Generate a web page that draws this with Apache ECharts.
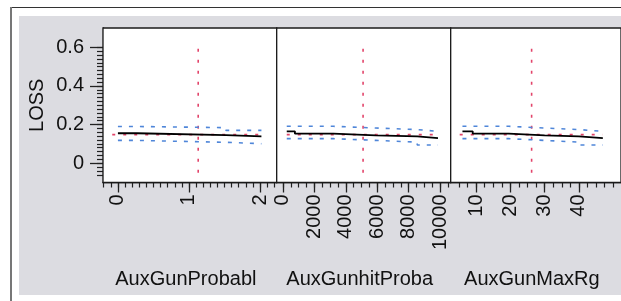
<!DOCTYPE html>
<html>
<head>
<meta charset="utf-8">
<script src="https://cdn.jsdelivr.net/npm/echarts@6/dist/echarts.min.js"></script>
<style>html,body{margin:0;padding:0;background:#fff}#c{width:621px;height:301px}</style>
</head>
<body>
<div id="c"></div>
<script>
// ---- data ----
const factorNames = ['AuxGunProbabl', 'AuxGunhitProba', 'AuxGunMaxRg'];
const yTickLabels = [0, 0.2, 0.4, 0.6];
const xTickLabels1 = [0, 1, 2];
const xTickLabels2 = [0, 2000, 4000, 6000, 8000, 10000];
const xTickLabels3 = [10, 20, 30, 40];
const currentLoss = 0.148;
const currentSetting = [1.13, 5100, 26.2];
const refLineY = [-0.05, 0.62];
const refSpan1 = [-0.08, 2.02];
const refSpan2 = [240, 9870];
const refSpan3 = [5.2, 47];

const p1X = [0, 0.27, 1.52, 2.02];
const p1Loss = [0.155, 0.145, 0.139, 0.139];
const p1Upper = [0.190, 0.184, 0.170, 0.170];
const p1Lower = [0.118, 0.108, 0.101, 0.101];

const p2X = [240, 760, 3200, 5900, 8550, 9870];
const p2Loss = [0.165, 0.153, 0.144, 0.139, 0.130, 0.130];
const p2Upper = [0.191, 0.191, 0.182, 0.174, 0.165, 0.165];
const p2Lower = [0.127, 0.127, 0.118, 0.109, 0.094, 0.094];

const p3X = [6, 9, 19.5, 30, 40, 47];
const p3Loss = [0.165, 0.153, 0.144, 0.139, 0.130, 0.130];
const p3Upper = [0.191, 0.191, 0.182, 0.174, 0.165, 0.165];
const p3Lower = [0.127, 0.127, 0.118, 0.109, 0.094, 0.094];

// ---- helpers ----
function range(a, b, step) {
  const out = [];
  const n = Math.round((b - a) / step);
  for (let i = 0; i <= n; i++) out.push(+(a + i * step).toFixed(6));
  return out;
}
const zip = (xs, ys) => xs.map((x, i) => [x, ys[i]]);

const FONT = 'Liberation Sans';
const TXT = '#111';
const RED = '#e2446a';
const BLUE = '#4f86d9';

const grids = [
  { left: 103, top: 28, width: 173.7, height: 154.5 },
  { left: 276.7, top: 28, width: 174, height: 154.5 },
  { left: 450.7, top: 28, width: 174, height: 154.5 }
].map(g => Object.assign(g, { show: true, backgroundColor: '#fff', borderColor: '#1a1a1a', borderWidth: 1.3, z: 1 }));

const xRanges = [[-0.21, 2.235], [-400, 10680], [2.57, 52.3]];
const xMajors = [xTickLabels1, xTickLabels2, xTickLabels3];
const xMinors = [range(-0.2, 2.2, 0.1), range(0, 10500, 500), range(2.5, 52.5, 2.5)];

const xAxes = [];
for (let i = 0; i < 3; i++) {
  xAxes.push({
    type: 'value', gridIndex: i, position: 'bottom', min: xRanges[i][0], max: xRanges[i][1],
    name: factorNames[i], nameLocation: 'middle', nameGap: 87,
    nameTextStyle: { fontFamily: FONT, fontSize: 20, color: TXT, padding: [0, 8, 0, 0] },
    axisLine: { show: true, onZero: false, lineStyle: { color: '#1a1a1a', width: 1.3 } },
    axisTick: { show: true, customValues: xMajors[i], length: 10, lineStyle: { color: '#222', width: 1.3 } },
    axisLabel: { show: true, customValues: xMajors[i], rotate: 90, margin: 12, fontFamily: FONT, fontSize: 20, color: TXT, formatter: v => String(v) },
    splitLine: { show: false }
  });
}
for (let i = 0; i < 3; i++) {
  xAxes.push({
    type: 'value', gridIndex: i, position: 'bottom', offset: 0, min: xRanges[i][0], max: xRanges[i][1],
    axisLine: { show: false, onZero: false },
    axisTick: { show: true, customValues: xMinors[i], length: 5, lineStyle: { color: '#222', width: 1.2 } },
    axisLabel: { show: false },
    splitLine: { show: false }
  });
}

const yAxes = [];
for (let i = 0; i < 3; i++) {
  yAxes.push({
    type: 'value', gridIndex: i, position: 'left', min: -0.1, max: 0.7, show: i === 0,
    name: i === 0 ? 'LOSS' : '', nameLocation: 'middle', nameGap: 56, nameRotate: 90,
    nameTextStyle: { fontFamily: FONT, fontSize: 20, color: TXT },
    axisLine: { show: true, onZero: false, lineStyle: { color: '#1a1a1a', width: 1.3 } },
    axisTick: { show: true, customValues: yTickLabels, length: 13, lineStyle: { color: '#222', width: 1.3 } },
    axisLabel: { show: true, customValues: yTickLabels, margin: 19, fontFamily: FONT, fontSize: 20, color: TXT,
      formatter: v => v === 0 ? '0' : v.toFixed(1) },
    splitLine: { show: false }
  });
}
yAxes.push({
  type: 'value', gridIndex: 0, position: 'left', offset: 0, min: -0.1, max: 0.7,
  axisLine: { show: false, onZero: false },
  axisTick: { show: true, customValues: range(-0.06, 0.6, 0.02), length: 6, lineStyle: { color: '#222', width: 1.2 } },
  axisLabel: { show: false },
  splitLine: { show: false }
});

const panels = [
  { x: p1X, loss: p1Loss, up: p1Upper, lo: p1Lower, span: refSpan1 },
  { x: p2X, loss: p2Loss, up: p2Upper, lo: p2Lower, span: refSpan2 },
  { x: p3X, loss: p3Loss, up: p3Upper, lo: p3Lower, span: refSpan3 }
];
const series = [];
panels.forEach((p, i) => {
  const base = { type: 'line', xAxisIndex: i, yAxisIndex: i, symbol: 'none', silent: true, animation: false };
  series.push(Object.assign({}, base, {
    data: [[currentSetting[i], refLineY[0]], [currentSetting[i], refLineY[1]]],
    lineStyle: { color: RED, width: 1.6, type: [3, 8] }, z: 2
  }));
  series.push(Object.assign({}, base, {
    data: [[p.span[0], currentLoss], [p.span[1], currentLoss]],
    lineStyle: { color: RED, width: 1.6, type: [3, 8] }, z: 2
  }));
  series.push(Object.assign({}, base, {
    data: zip(p.x, p.up), step: 'end',
    lineStyle: { color: BLUE, width: 1.6, type: [4, 7] }, z: 3
  }));
  series.push(Object.assign({}, base, {
    data: zip(p.x, p.lo), step: 'end',
    lineStyle: { color: BLUE, width: 1.6, type: [4, 7] }, z: 3
  }));
  series.push(Object.assign({}, base, {
    data: zip(p.x, p.loss), step: 'end',
    lineStyle: { color: '#000', width: 1.8 }, z: 4
  }));
});

const chart = echarts.init(document.getElementById('c'), null, { renderer: 'canvas' });
chart.setOption({
  backgroundColor: '#fff',
  animation: false,
  graphic: {
    elements: [
      { type: 'rect', z: -10, silent: true, shape: { x: 19, y: 16, width: 640, height: 279 }, style: { fill: '#dcdce1' } },
      { type: 'line', z: -10, silent: true, shape: { x1: 10, y1: 7.5, x2: 640, y2: 7.5 }, style: { stroke: '#333', lineWidth: 1.2 } },
      { type: 'line', z: -10, silent: true, shape: { x1: 11, y1: 7, x2: 11, y2: 310 }, style: { stroke: '#777', lineWidth: 2 } }
    ]
  },
  grid: grids,
  xAxis: xAxes,
  yAxis: yAxes,
  series: series
});
</script>
</body>
</html>
